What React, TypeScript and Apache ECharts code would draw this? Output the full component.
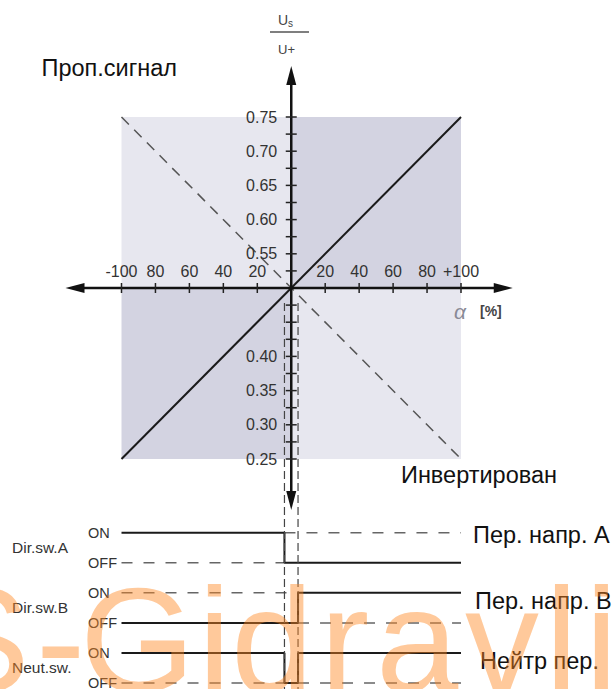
import React, { useEffect, useRef } from "react";
import * as echarts from "echarts";

// ---------------- data ----------------
const alphaRange = [-100, 100];
const alphaStep = 20;
const signalRange = [0.25, 0.75];
const signalCenter = 0.5;
const signalStep = 0.05;
const hiddenSignalLabels = [0.5, 0.45];
const alphaTickValues = [-100, -80, -60, -40, -20, 20, 40, 60, 80, 100];
const signalTickValues = [
  0.25, 0.275, 0.3, 0.325, 0.35, 0.375, 0.4, 0.425, 0.45, 0.475,
  0.525, 0.55, 0.575, 0.6, 0.625, 0.65, 0.675, 0.7, 0.725, 0.75,
];
const proportionalSignal = [[-100, 0.25], [100, 0.75]];
const invertedSignal = [[-100, 0.75], [100, 0.25]];
const axisAlphaExtent = [-133, 130.5];
const axisSignalExtent = [0.1755, 0.8245];
const switchPoints = [-4, 4];
const guideSignalRange = [0.478, -0.09];

// quadrants: [alpha from, alpha to, signal from, signal to, tone]
const quadrants: [number, number, number, number, string][] = [
  [-100, 0, 0.5, 0.75, "light"],
  [0, 100, 0.5, 0.75, "dark"],
  [-100, 0, 0.25, 0.5, "dark"],
  [0, 100, 0.25, 0.5, "light"],
];

// timing diagram: levels 5/4 = Dir.sw.A ON/OFF, 3/2 = Dir.sw.B ON/OFF, 1/0 = Neut.sw. ON/OFF
const stateNames = ["OFF", "ON"];
const rowMidLevels = [4.5, 2.5, 0.5];
const rowNames = ["Dir.sw.A", "Dir.sw.B", "Neut.sw."];
const dirSwASolid = [[-100, 5], [-4, 5], [-4, 4], [100, 4]];
const dirSwADashed = [[[-100, 4], [-4, 4]], [[-4, 5], [100, 5]]];
const dirSwBSolid = [[-100, 2], [4, 2], [4, 3], [100, 3]];
const dirSwBDashed = [[[-100, 3], [4, 3]], [[4, 2], [100, 2]]];
const neutSwSolid = [[-100, 1], [-4, 1], [-4, 0], [4, 0], [4, 1], [100, 1]];
const neutSwDashed = [[[-100, 0], [-4, 0]], [[4, 0], [100, 0]]];

const FONT = "'Liberation Sans', Arial, sans-serif";
const LIGHT = "#e7e7ef";
const DARK = "#d3d3e1";

// layout of the main plot
const PLOT_LEFT = 121.5;
const PLOT_WIDTH = 339.5;
const PLOT_TOP = 117;
const PLOT_HEIGHT = 342;
const W = 615;
const H = 689;

const off = (s: number) => s - signalCenter;

export default function App() {
  const ref = useRef<HTMLDivElement>(null);

  useEffect(() => {
    if (!ref.current) return;
    const chart = echarts.init(ref.current, null, { renderer: "svg" });

    const renderAxes = (_params: any, api: any) => {
      const c = (a: number, s: number) => api.coord([a, off(s)]);
      const children: any[] = [];
      const axisStyle = { stroke: "#111", lineWidth: 2.5 };
      const aLen = 19;
      const aHalf = 5;
      const [ox, oy] = c(0, signalCenter);
      const xl = c(axisAlphaExtent[0], signalCenter)[0];
      const xr = c(axisAlphaExtent[1], signalCenter)[0];
      const yt = c(0, axisSignalExtent[1])[1];
      const yb = c(0, axisSignalExtent[0])[1];
      switchPoints.forEach((a) => {
        const [gx, gy1] = c(a, guideSignalRange[0]);
        const gy2 = c(a, guideSignalRange[1])[1];
        children.push({
          type: "line",
          shape: { x1: gx, y1: gy1, x2: gx, y2: gy2 },
          style: { stroke: "#444", lineWidth: 1.2, lineDash: [8, 4] },
        });
      });
      children.push({ type: "line", shape: { x1: xl + aLen - 2, y1: oy, x2: xr - aLen + 2, y2: oy }, style: axisStyle });
      children.push({ type: "line", shape: { x1: ox, y1: yt + aLen - 2, x2: ox, y2: yb - aLen + 2 }, style: axisStyle });
      const fill = { fill: "#111", stroke: "none" };
      children.push({ type: "polygon", shape: { points: [[xr, oy], [xr - aLen, oy - aHalf], [xr - aLen, oy + aHalf]] }, style: fill });
      children.push({ type: "polygon", shape: { points: [[xl, oy], [xl + aLen, oy - aHalf], [xl + aLen, oy + aHalf]] }, style: fill });
      children.push({ type: "polygon", shape: { points: [[ox, yt], [ox - aHalf, yt + aLen], [ox + aHalf, yt + aLen]] }, style: fill });
      children.push({ type: "polygon", shape: { points: [[ox, yb], [ox - aHalf, yb - aLen], [ox + aHalf, yb - aLen]] }, style: fill });
      const tickStyle = { stroke: "#222", lineWidth: 1.5 };
      alphaTickValues.forEach((a) => {
        const x = c(a, signalCenter)[0];
        children.push({ type: "line", shape: { x1: x, y1: oy - 5, x2: x, y2: oy + 5 }, style: tickStyle });
      });
      signalTickValues.forEach((s) => {
        const y = c(0, s)[1];
        children.push({ type: "line", shape: { x1: ox - 5.5, y1: y, x2: ox + 5.5, y2: y }, style: tickStyle });
      });
      return { type: "group", children };
    };

    const solidStyle = { color: "#1a1a1a", width: 2 };
    const dashedStyle = { color: "#666", width: 1.5, type: [11, 11] as any };
    const timingSeries: any[] = [];
    [dirSwASolid, dirSwBSolid, neutSwSolid].forEach((d) =>
      timingSeries.push({
        type: "line", xAxisIndex: 1, yAxisIndex: 2, data: d, symbol: "none",
        lineStyle: solidStyle, clip: false, silent: true, z: 4,
      })
    );
    [...dirSwADashed, ...dirSwBDashed, ...neutSwDashed].forEach((d) =>
      timingSeries.push({
        type: "line", xAxisIndex: 1, yAxisIndex: 2, data: d, symbol: "none",
        lineStyle: dashedStyle, clip: false, silent: true, z: 3,
      })
    );

    const labelStyle = { fontFamily: FONT, fontSize: 16, color: "#333", hideOverlap: false };
    const text = (t: string, x: number, y: number, size: number, extra: any = {}) => ({
      type: "text",
      x,
      y,
      style: { text: t, fontFamily: FONT, fontSize: size, fill: "#111", align: "left", verticalAlign: "middle", ...extra },
      z: 10,
    });

    // axes cross at alpha 0 / signal 0.5: offsets derived from the scales
    const xAxisOffset = -PLOT_HEIGHT * (signalCenter - signalRange[0]) / (signalRange[1] - signalRange[0]);
    const yAxisOffset = -PLOT_WIDTH * (0 - alphaRange[0]) / (alphaRange[1] - alphaRange[0]);

    const wmLetters: [string, number][] = [
      ["S", -69], ["-", 36], ["G", 80], ["i", 198], ["d", 231], ["r", 320],
      ["a", 376], ["v", 465], ["l", 545], ["i", 585],
    ];

    chart.setOption({
      animation: false,
      textStyle: { fontFamily: FONT },
      grid: [
        { left: PLOT_LEFT, width: PLOT_WIDTH, top: PLOT_TOP, height: PLOT_HEIGHT, outerBoundsMode: "none", containLabel: false },
        { left: PLOT_LEFT, width: PLOT_WIDTH, top: 532.7, bottom: 6, outerBoundsMode: "none", containLabel: false },
      ],
      xAxis: [
        {
          type: "value", gridIndex: 0, position: "bottom", offset: xAxisOffset, z: 8,
          min: alphaRange[0], max: alphaRange[1], interval: alphaStep,
          axisLine: { show: false, onZero: false },
          axisTick: { show: false },
          splitLine: { show: false },
          axisLabel: {
            ...labelStyle, inside: true, margin: 9, showMinLabel: true, showMaxLabel: true,
            formatter: (v: number) => {
              if (v === 0) return "";
              if (v === alphaRange[1]) return "+" + v;
              if (v === alphaRange[0]) return String(v);
              return String(Math.abs(v));
            },
          },
        },
        { type: "value", gridIndex: 1, min: alphaRange[0], max: alphaRange[1], show: false },
      ],
      yAxis: [
        {
          type: "value", gridIndex: 0, position: "left", offset: yAxisOffset, z: 8,
          min: off(signalRange[0]), max: off(signalRange[1]), interval: signalStep,
          axisLine: { show: false, onZero: false },
          axisTick: { show: false },
          splitLine: { show: false },
          axisLabel: {
            ...labelStyle, margin: 14, showMinLabel: true, showMaxLabel: true,
            formatter: (v: number) => {
              const s = Math.round((v + signalCenter) * 100) / 100;
              return hiddenSignalLabels.includes(s) ? "" : s.toFixed(2);
            },
          },
        },
        {
          type: "value", gridIndex: 1, position: "left", min: 0, max: 5, interval: 0.5,
          axisLine: { show: false, onZero: false }, axisTick: { show: false }, splitLine: { show: false },
          axisLabel: {
            ...labelStyle, fontSize: 15.5, align: "left", margin: 109.5,
            formatter: (v: number) => {
              const i = rowMidLevels.indexOf(v);
              return i >= 0 ? rowNames[i] : "";
            },
          },
        },
        {
          type: "value", gridIndex: 1, position: "left", min: 0, max: 5, interval: 1,
          axisLine: { show: false, onZero: false }, axisTick: { show: false }, splitLine: { show: false },
          axisLabel: {
            ...labelStyle, fontSize: 14.5, align: "left", margin: 33.5,
            formatter: (v: number) => (Number.isInteger(v) ? stateNames[v % 2] : ""),
          },
        },
      ],
      series: [
        {
          type: "line", xAxisIndex: 0, yAxisIndex: 0, symbol: "none", clip: false, silent: true, z: 3,
          data: proportionalSignal.map(([a, s]) => [a, off(s)]),
          lineStyle: { color: "#1a1a1a", width: 2 },
          markArea: {
            silent: true,
            data: quadrants.map(([a0, a1, s0, s1, tone]) => [
              { coord: [a0, off(s0)], itemStyle: { color: tone === "light" ? LIGHT : DARK } },
              { coord: [a1, off(s1)] },
            ]),
          },
        },
        {
          type: "line", xAxisIndex: 0, yAxisIndex: 0, symbol: "none", clip: false, silent: true, z: 3,
          data: invertedSignal.map(([a, s]) => [a, off(s)]),
          lineStyle: { color: "#555", width: 1.5, type: [10.5, 7.5] as any },
        },
        {
          type: "custom", xAxisIndex: 0, yAxisIndex: 0, clip: false, silent: true, z: 5,
          data: [[0, 0]],
          renderItem: renderAxes,
        },
        ...timingSeries,
      ],
      graphic: [
        text("Проп.сигнал", 41.5, 68, 23.5),
        text("Инвертирован", 401, 475, 23.5),
        text("Пер. напр. A", 473, 535, 23.5),
        text("Пер. напр. B", 475, 601, 23.5),
        text("Нейтр пер.", 480, 661, 23.5),
        text("α", 460, 311, 21, { fill: "#8a8a96", fontStyle: "italic", align: "center" }),
        text("[%]", 480, 311, 14, { fill: "#444", fontWeight: "bold" }),
        text("U", 278, 20, 14, { fill: "#444" }),
        text("s", 288, 23, 10, { fill: "#444" }),
        text("U+", 278, 49, 13, { fill: "#444" }),
        {
          type: "line", z: 10,
          shape: { x1: 270, y1: 32, x2: 309, y2: 32 },
          style: { stroke: "#555", lineWidth: 1.5 },
        },
        {
          type: "group", z: 20, silent: true,
          children: wmLetters.map(([ch, x]) => ({
            type: "text", x, y: 640, z: 20,
            style: {
              text: ch, fontFamily: FONT, fontSize: 148, fill: "rgba(255,136,34,0.45)",
              align: "left", verticalAlign: "middle",
            },
          })),
        },
      ],
    });

    return () => chart.dispose();
  }, []);

  return (
    <div
      ref={ref}
      style={{ position: "absolute", left: 0, top: 0, width: W, height: H, background: "#fff" }}
    />
  );
}
